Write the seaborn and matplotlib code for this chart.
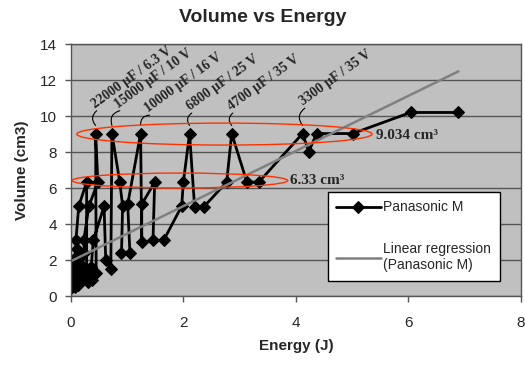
import matplotlib
matplotlib.use("Agg")
import matplotlib.pyplot as plt
import seaborn as sns
from matplotlib.patches import Ellipse

# Panasonic M series, in plotting order (energy in J, volume in cm3)
energy = [0.02, 0.05, 0.08, 0.04, 0.15, 0.11, 0.30, 0.35,
          0.01, 0.03, 0.05, 0.07, 0.04, 0.10, 0.06, 0.09, 0.09, 0.14, 0.28,
          0.28, 0.12, 0.16, 0.20, 0.24, 0.23, 0.32, 0.48,
          0.44, 0.45, 0.20, 0.25, 0.38, 0.33, 0.36, 0.40, 0.59,
          0.62, 0.71, 0.73, 0.87, 0.92, 0.90, 1.05, 1.01,
          1.24, 1.26, 1.26, 1.49, 1.46, 1.65, 1.97, 2.00, 2.11,
          2.20, 2.36, 2.77, 2.86, 3.13, 3.34, 4.12, 4.23, 4.37,
          5.01, 6.04, 6.89]
volume = [1.0, 1.5, 0.5, 2.0, 1.3, 2.6, 0.8, 1.2,
          0.45, 0.6, 0.9, 1.2, 1.3, 1.0, 1.8, 2.2, 3.1, 5.0, 6.33,
          1.4, 0.6, 1.0, 1.7, 2.4, 3.1, 5.0, 6.33,
          9.03, 1.3, 0.9, 1.2, 0.9, 1.5, 1.6, 3.1, 5.0,
          2.0, 1.5, 9.03, 6.33, 5.0, 2.4, 2.4, 5.1,
          9.03, 3.0, 5.1, 6.33, 3.1, 3.1, 5.0, 6.33, 9.03,
          4.95, 4.95, 6.33, 9.03, 6.33, 6.33, 9.03, 8.03, 9.03,
          9.03, 10.2, 10.2]

# linear regression
reg_energy = [0.0, 6.89]
reg_intercept = 1.94
reg_slope = 1.53

cap_labels = ["22000 µF / 6.3 V", "15000 µF / 10 V", "10000 µF / 16 V",
              "6800 µF / 25 V", "4700 µF / 35 V", "3300 µF / 35 V"]
cap_energy = [0.44, 0.73, 1.24, 2.11, 2.86, 4.12]
cap_volume = 9.03
label_energy = [0.46, 0.87, 1.40, 2.15, 2.88, 4.16]
label_volume = [10.3, 10.3, 10.05, 10.17, 10.17, 10.44]

sns.set_style("white")
plt.rcParams["font.family"] = ["Liberation Sans", "DejaVu Sans"]

fig = plt.figure(figsize=(5.25, 3.67), dpi=100)
ax = fig.add_axes([0.135, 0.193, 0.857, 0.687])
ax.set_facecolor("#c0c0c0")

sns.lineplot(x=energy, y=volume, sort=False, estimator=None, marker="D",
             markersize=6, color="black", markeredgecolor="black",
             linewidth=2.0, label="Panasonic M", ax=ax)
reg_volume = [reg_intercept + reg_slope * e for e in reg_energy]
sns.lineplot(x=reg_energy, y=reg_volume, color="#808080", linewidth=1.8,
             label="Linear regression\n(Panasonic M)", ax=ax)

# red ellipses round the two common case volumes
ax.add_patch(Ellipse((2.73, 9.0), 5.25, 1.22, fill=False, edgecolor="#ff3300", lw=1.0, zorder=4))
ax.add_patch(Ellipse((1.94, 6.42), 3.83, 0.83, fill=False, edgecolor="#ff3300", lw=1.0, zorder=4))
ax.text(5.43, 8.9, "9.034 cm³", fontfamily="Liberation Serif", fontweight="bold",
        fontsize=11, va="center", ha="left")
ax.text(3.9, 6.42, "6.33 cm³", fontfamily="Liberation Serif", fontweight="bold",
        fontsize=11, va="center", ha="left")

for lab, e, lx, ly in zip(cap_labels, cap_energy, label_energy, label_volume):
    ax.annotate("", xy=(e, cap_volume + 0.45), xytext=(lx, ly),
                arrowprops=dict(arrowstyle="-", color="black", lw=0.8,
                                connectionstyle="arc3,rad=0.5", shrinkA=0, shrinkB=0))
    ax.text(lx, ly, lab, rotation=36, rotation_mode="anchor",
            ha="left", va="bottom", fontfamily="Liberation Serif", fontweight="bold",
            fontsize=10)

ax.set_xlim(0, 8)
ax.set_ylim(0, 14)
ax.set_xticks([0, 2, 4, 6, 8])
ax.set_yticks(range(0, 15, 2))
ax.yaxis.grid(True, color="#555555", lw=1)
ax.xaxis.grid(False)
for s in ax.spines.values():
    s.set_color("#555555")
    s.set_linewidth(1)
ax.tick_params(direction="out", length=4, width=1, color="#555555", labelsize=11,
               bottom=True, left=True)
ax.tick_params(axis="x", pad=10)
ax.tick_params(axis="y", pad=6)
ax.set_xlabel("Energy (J)", fontweight="bold", fontsize=11, labelpad=7)
ax.set_ylabel("Volume (cm3)", fontweight="bold", fontsize=11, labelpad=8)
fig.suptitle("Volume vs Energy", fontweight="bold", fontsize=14, y=0.975)

ax.legend(loc="upper left", bbox_to_anchor=(0.571, 0.413), frameon=True, fancybox=False,
          edgecolor="black", framealpha=1, fontsize=10, labelspacing=2.0,
          handlelength=3.2, borderpad=0.6, handletextpad=0.2, borderaxespad=0)

fig.savefig("out.png", dpi=100)
